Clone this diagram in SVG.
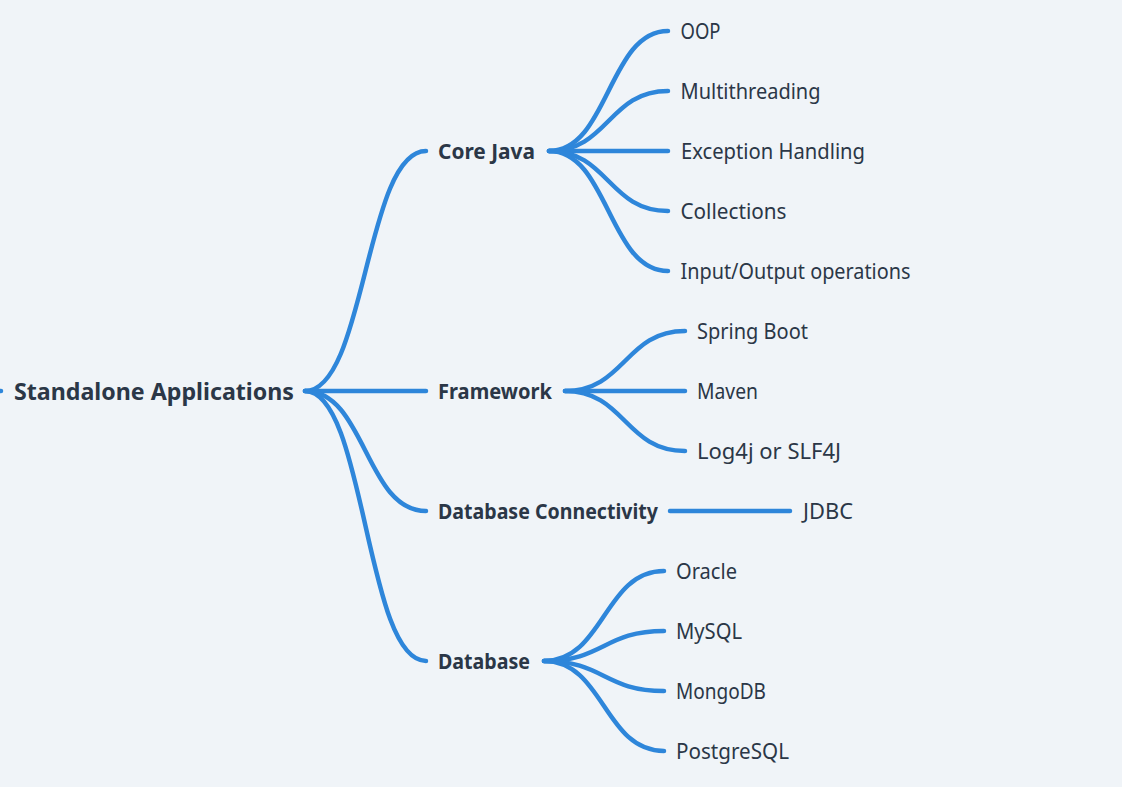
<svg xmlns="http://www.w3.org/2000/svg" width="1122" height="787" viewBox="0 0 1122 787">
<style>
.bg{fill:#f0f4f8}
.l{fill:none;stroke:#2e86da;stroke-width:4.5;stroke-linecap:round}
.t{font-family:"Noto Sans","Open Sans",sans-serif;fill:#2b3747;font-size:21px}
.b{font-weight:bold}
.r{font-size:23px;font-weight:bold}
</style>
<rect class="bg" x="0" y="0" width="1122" height="787"/>
<g id="connectors">
<path class="l" d="M -10 391 L 1 391"/>
<path class="l" d="M 305 391 C 365.5 391 365.5 151 426 151"/>
<path class="l" d="M 305 391 L 426 391"/>
<path class="l" d="M 305 391 C 365.5 391 365.5 511 426 511"/>
<path class="l" d="M 305 391 C 365.5 391 365.5 661 426 661"/>
<path class="l" d="M 549 151 C 608.5 151 608.5 31 668 31"/>
<path class="l" d="M 549 151 C 608.5 151 608.5 91 668 91"/>
<path class="l" d="M 549 151 L 668 151"/>
<path class="l" d="M 549 151 C 608.5 151 608.5 211 668 211"/>
<path class="l" d="M 549 151 C 608.5 151 608.5 271 668 271"/>
<path class="l" d="M 565 391 C 625 391 625 331 685 331"/>
<path class="l" d="M 565 391 L 685 391"/>
<path class="l" d="M 565 391 C 625 391 625 451 685 451"/>
<path class="l" d="M 670 511 L 790 511"/>
<path class="l" d="M 544 661 C 604 661 604 571 664 571"/>
<path class="l" d="M 544 661 C 604 661 604 631 664 631"/>
<path class="l" d="M 544 661 C 604 661 604 691 664 691"/>
<path class="l" d="M 544 661 C 604 661 604 751 664 751"/>
</g>
<g id="root"><text class="t r" x="14" y="400" textLength="280" lengthAdjust="spacingAndGlyphs">Standalone Applications</text></g>
<g id="core-java"><text class="t b" x="438" y="159" textLength="97" lengthAdjust="spacingAndGlyphs">Core Java</text></g>
<g id="framework"><text class="t b" x="438" y="399" textLength="114" lengthAdjust="spacingAndGlyphs">Framework</text></g>
<g id="db-connectivity"><text class="t b" x="438" y="519" textLength="220" lengthAdjust="spacingAndGlyphs">Database Connectivity</text></g>
<g id="database"><text class="t b" x="438" y="669" textLength="92" lengthAdjust="spacingAndGlyphs">Database</text></g>
<g id="oop"><text class="t" x="680.5" y="39" textLength="40" lengthAdjust="spacingAndGlyphs">OOP</text></g>
<g id="multithreading"><text class="t" x="680.5" y="99" textLength="140" lengthAdjust="spacingAndGlyphs">Multithreading</text></g>
<g id="exception"><text class="t" x="681" y="159" textLength="184" lengthAdjust="spacingAndGlyphs">Exception Handling</text></g>
<g id="collections"><text class="t" x="680.5" y="219" textLength="106" lengthAdjust="spacingAndGlyphs">Collections</text></g>
<g id="io"><text class="t" x="680.5" y="279" textLength="230" lengthAdjust="spacingAndGlyphs">Input/Output operations</text></g>
<g id="spring-boot"><text class="t" x="697" y="339" textLength="111" lengthAdjust="spacingAndGlyphs">Spring Boot</text></g>
<g id="maven"><text class="t" x="697" y="399" textLength="61" lengthAdjust="spacingAndGlyphs">Maven</text></g>
<g id="log4j"><text class="t" x="697" y="459" textLength="144" lengthAdjust="spacingAndGlyphs">Log4j or SLF4J</text></g>
<g id="jdbc"><text class="t" x="803" y="519" textLength="50" lengthAdjust="spacingAndGlyphs">JDBC</text></g>
<g id="oracle"><text class="t" x="676" y="579" textLength="61" lengthAdjust="spacingAndGlyphs">Oracle</text></g>
<g id="mysql"><text class="t" x="676" y="639" textLength="66" lengthAdjust="spacingAndGlyphs">MySQL</text></g>
<g id="mongodb"><text class="t" x="676" y="699" textLength="90" lengthAdjust="spacingAndGlyphs">MongoDB</text></g>
<g id="postgresql"><text class="t" x="676" y="759" textLength="113" lengthAdjust="spacingAndGlyphs">PostgreSQL</text></g>
</svg>
